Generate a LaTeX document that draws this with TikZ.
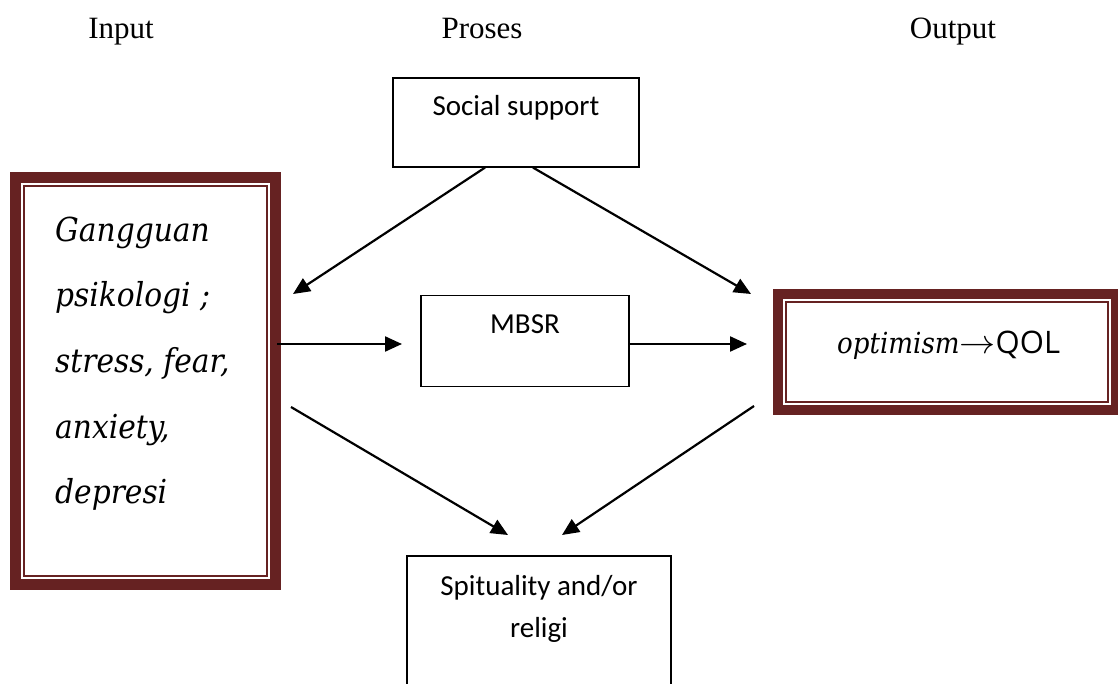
\documentclass[tikz,border=0pt]{standalone}
\usepackage{fontspec}
\usepackage{graphicx}
\setmainfont{Liberation Serif}
\newfontfamily\calfont{Carlito}
\newfontfamily\camit{DejaVu Serif Condensed}[ItalicFont={DejaVu Serif Condensed Italic}]
\newfontfamily\qolfont{Open Sans}
\usetikzlibrary{arrows.meta}
\definecolor{borderred}{RGB}{102,34,34}
\begin{document}
\begin{tikzpicture}[x=1pt,y=-1pt,
  hdr/.style={font=\fontsize{31}{36}\selectfont, anchor=base, inner sep=0pt},
  box/.style={draw, line width=1.6pt, inner xsep=0pt, inner ysep=0pt, anchor=north,
    font=\calfont\fontsize{29}{35}\selectfont},
  txt/.style={anchor=base, inner sep=0pt, font=\calfont\fontsize{29}{35}\selectfont},
  itxt/.style={anchor=base west, inner sep=0pt, font=\camit\itshape\fontsize{33}{38}\selectfont},
  thickband/.style={draw=borderred, line width=11pt},
  thinband/.style={draw=borderred, line width=2pt},
  arr/.style={-{Triangle[length=17pt,width=15pt]}, line width=2.2pt}]
\useasboundingbox (0,0) rectangle (1118,684);

% headers
\node[hdr] (hin) at (121,39) {Input};
\node[hdr] (hpr) at (482,39) {Proses};
\node[hdr] (hout) at (953,39) {Output};

% process boxes
\node[box, minimum width=246pt, text height=38pt, text depth=51pt] (ss) at (516,77) {Social support};
\node[box, line width=1.3pt, minimum width=208pt, text height=38pt, text depth=53pt] (mbsr) at (525,295) {MBSR};
\node[box, minimum width=264pt, minimum height=160pt] (sp) at (539,555) {};
\node[txt] (sp1) at (539,595) {Spituality and/or};
\node[txt] (sp2) at (539,637) {religi};

% input box
\node[minimum width=271pt, minimum height=418pt, inner sep=0pt] (in) at (145.5,381) {};
\draw[thickband] ([shift={(5.5,5.5)}]in.north west) rectangle ([shift={(-5.5,-5.5)}]in.south east);
\draw[thinband] ([shift={(14,14)}]in.north west) rectangle ([shift={(-14,-14)}]in.south east);
\node[itxt] (l1) at (55,242) {Gangguan};
\node[itxt] (l2) at (55,306) {psikologi ;};
\node[itxt] (l3) at (55,372) {stress, fear,};
\node[itxt] (l4) at (55,438) {anxiety,};
\node[itxt] (l5) at (55,503) {depresi};

% output box
\node[minimum width=348pt, minimum height=126pt, inner sep=0pt] (out) at (947,352) {};
\draw[thickband, line width=10pt] ([shift={(5,5)}]out.north west) rectangle ([shift={(-5,-5)}]out.south east);
\draw[thinband] ([shift={(13,13)}]out.north west) rectangle ([shift={(-13,-13)}]out.south east);
\node[anchor=base west, inner sep=0pt] (outt) at (837,353)
  {{\camit\itshape\fontsize{29}{35}\selectfont optimism}{\fontsize{24}{30}\selectfont\scalebox{1.45}[1.35]{$\rightarrow$}}{\qolfont\fontsize{31}{35}\selectfont QOL}};

% arrows
\coordinate (t1) at (293,294);
\coordinate (t2) at (751,294);
\coordinate (a1) at (402,344);
\coordinate (a2) at (747,344);
\coordinate (s3) at (291,407);
\coordinate (t3) at (508,535);
\coordinate (s4) at (754,406);
\coordinate (t4) at (562,535);
\draw[arr] ([shift={(-31,0)}]ss.south) -- (t1);
\draw[arr] ([shift={(17,0)}]ss.south) -- (t2);
\draw[arr] ([shift={(-4,0)}]in.east |- a1) -- (a1);
\draw[arr] (mbsr.east |- a2) -- (a2);
\draw[arr] (s3) -- (t3);
\draw[arr] (s4) -- (t4);
\end{tikzpicture}
\end{document}
